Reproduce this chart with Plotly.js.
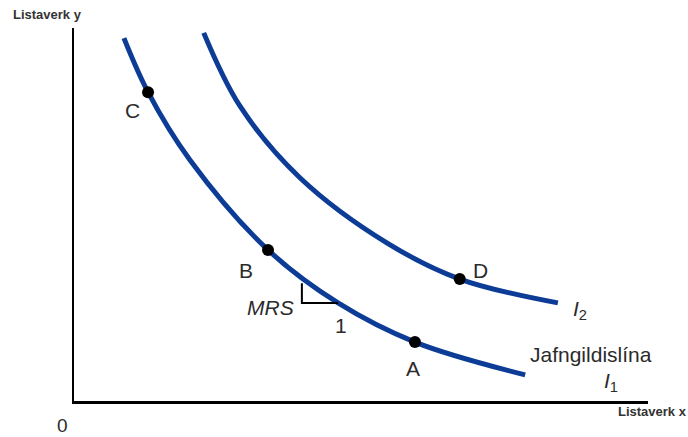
<!DOCTYPE html>
<html>
<head>
<meta charset="utf-8">
<script src="https://cdn.plot.ly/plotly-3.0.1.min.js"></script>
<style>html,body{margin:0;padding:0;background:#fff;}#chart{width:688px;height:437px;}</style>
</head>
<body>
<div id="chart"></div>
<script>
// Indifference curve I1
var i1X = [0.87, 1.29, 2.02, 3.38, 4.60, 5.94, 7.86];
var i1Y = [9.73, 8.28, 6.46, 4.05, 2.63, 1.58, 0.70];
// Indifference curve I2
var i2X = [2.26, 2.89, 3.94, 5.45, 6.72, 8.43];
var i2Y = [9.87, 7.91, 5.98, 4.24, 3.27, 2.63];
// Marked bundles
var ptNames = ["C", "B", "A", "D"];
var ptX = [1.29, 3.38, 5.94, 6.72];
var ptY = [8.28, 4.05, 1.58, 3.27];
// MRS triangle
var triX = [3.97, 3.97, 4.60];
var triY = [3.16, 2.63, 2.63];

var blue = '#0c3c96';
var font = 'Liberation Sans, Arial, sans-serif';
var txtCol = '#2b2b2b';

var traces = [
  {x: i1X, y: i1Y, mode: 'lines', line: {color: blue, width: 5, shape: 'spline', smoothing: 1}, hoverinfo: 'skip'},
  {x: i2X, y: i2Y, mode: 'lines', line: {color: blue, width: 5, shape: 'spline', smoothing: 1}, hoverinfo: 'skip'},
  {x: triX, y: triY, mode: 'lines', line: {color: '#000', width: 2}, hoverinfo: 'skip'},
  {x: ptX, y: ptY, mode: 'markers', text: ptNames, marker: {color: '#000', size: 12}, hoverinfo: 'skip'}
];

// plot area in pixels: left 74, right 648, top 28, bottom 401
function px(x){ return (x - 74) / 574; }
function py(y){ return (401 - y) / 373; }
function ann(text, x, y, size, col){
  return {text: text, xref: 'paper', yref: 'paper', x: px(x), y: py(y), showarrow: false,
          xanchor: 'center', yanchor: 'middle', borderpad: 0,
          font: {family: font, size: size, color: col || txtCol}};
}

var annotations = [
  ann(ptNames[0], 132, 110, 21),
  ann(ptNames[1], 246, 270, 21),
  ann(ptNames[2], 413, 368, 21),
  ann(ptNames[3], 481, 270, 21),
  ann('<i>MRS</i>', 270, 307, 21),
  ann('1', 341, 325, 21),
  ann('<i>I</i><sub>2</sub>', 580, 310, 21),
  ann('Jafngildislína', 591, 354, 21),
  ann('<i>I</i><sub>1</sub>', 611, 382, 21),
  ann('<b>Listaverk y</b>', 47, 15, 13, '#333'),
  ann('<b>Listaverk x</b>', 652, 411, 13, '#333'),
  ann('0', 62, 425, 19)
];

var layout = {
  width: 688, height: 437,
  margin: {l: 74, r: 40, t: 28, b: 36, pad: 0},
  paper_bgcolor: '#fff', plot_bgcolor: '#fff',
  showlegend: false,
  xaxis: {range: [0, 10], showline: true, linecolor: '#000', linewidth: 2.5, showgrid: false,
          zeroline: false, showticklabels: false, ticks: ''},
  yaxis: {range: [0, 10], showline: true, linecolor: '#000', linewidth: 2.5, showgrid: false,
          zeroline: false, showticklabels: false, ticks: ''},
  annotations: annotations
};

Plotly.newPlot('chart', traces, layout, {staticPlot: true, displayModeBar: false});
</script>
</body>
</html>
